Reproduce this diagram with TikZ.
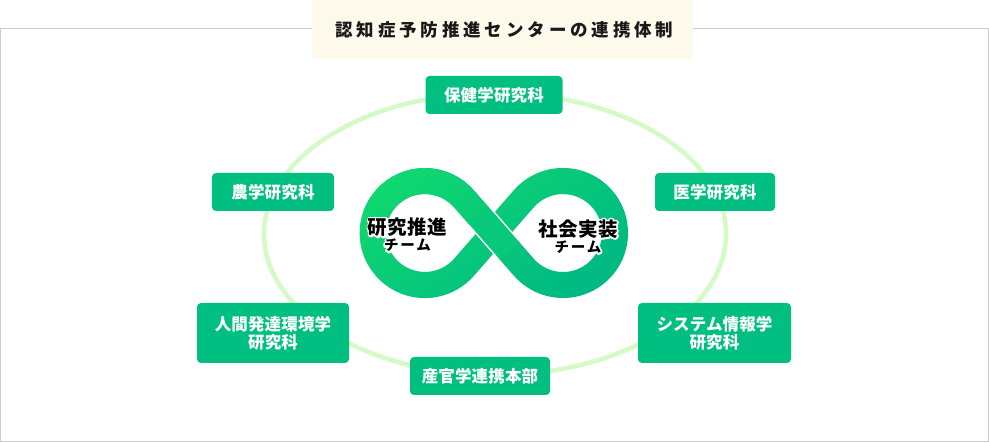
\documentclass[tikz,border=0pt]{standalone}
\usepackage{fontspec}
\setmainfont{Noto Sans CJK JP}
\usetikzlibrary{fadings}

\definecolor{unitgreen}{HTML}{00BF80}
\definecolor{ringgreen}{HTML}{D4FAC6}
\definecolor{titlebg}{HTML}{FEFAEB}
\definecolor{framegray}{HTML}{CCCCCC}
\definecolor{loopdark}{HTML}{00B984}
\definecolor{looplight}{HTML}{10D870}
\definecolor{loopmid}{HTML}{08C97A}
\tikzfading[name=loopfade, left color=transparent!0, right color=transparent!100]

% white outline round the team names
\newcommand{\halo}[1]{\setbox0\hbox{#1}%
  \rlap{\color{white}\special{pdf:literal direct 1 Tr 3.6 w 1 j}\copy0\special{pdf:literal direct 0 Tr 0.4 w 0 j}}%
  \copy0}
\newcommand{\unitfont}{\fontsize{16.5}{18}\selectfont\bfseries\addfontfeature{LetterSpace=1}}

\begin{document}
\begin{tikzpicture}[x=1pt,y=-1pt,
    unit/.style={rectangle,fill=unitgreen,rounded corners=4pt,text=white,font=\unitfont,
      align=center,inner sep=0pt,minimum height=38pt},
    wideunit/.style={unit,minimum height=60pt},
    team/.style={align=center,inner sep=0pt,font=\bfseries},
    band/.style={line width=26pt,line join=round}]
    \useasboundingbox (0,0) rectangle (989,443);
    \draw[framegray,line width=1.3pt] (0.7,28.5) rectangle (988.3,441.3);
    \node[fill=titlebg,minimum width=381pt,minimum height=59pt,inner sep=0pt,
      font=\fontsize{17.5}{20}\selectfont\bfseries\addfontfeature{LetterSpace=22},text=black!90]
      (title) at (502.5,29.5) {\hspace*{3.8pt}認知症予防推進センターの連携体制};

    % ring behind the units
    \draw[ringgreen,line width=4.5pt] (495,234) ellipse[x radius=231,y radius=141];

    % infinity
    \draw[band,loopdark] (464.2,198.9) arc[start angle=-41,end angle=-319,radius=52]
      -- (523.8,198.9) arc[start angle=-139,end angle=139,radius=52] -- cycle;
    \draw[band,looplight,path fading=loopfade,fading angle=-35] (464.2,198.9) arc[start angle=-41,end angle=-319,radius=52]
      -- (523.8,198.9) arc[start angle=-139,end angle=139,radius=52] -- cycle;
    \draw[white,line width=29pt] (479.1,215.95) -- (508.9,250.05);
    \draw[loopmid,line width=26pt] (478.1,214.8) -- (509.9,251.2);

    \node[team] (kenkyu) at (407.5,235)
      {\halo{\fontsize{19.5}{20}\selectfont\addfontfeature{LetterSpace=2}研究推進}\\[1.5pt]%
       \halo{\fontsize{14.5}{15}\selectfont\addfontfeature{LetterSpace=12}チーム}};
    \node[team] (shakai) at (578,236.5)
      {\halo{\fontsize{19.5}{20}\selectfont\addfontfeature{LetterSpace=2}社会実装}\\[1.5pt]%
       \halo{\fontsize{14.5}{15}\selectfont\addfontfeature{LetterSpace=12}チーム}};

    % units
    \node[unit,minimum width=137pt] (hoken) at (494,95) {保健学研究科};
    \node[unit,minimum width=122pt] (nogaku) at (273,192) {農学研究科};
    \node[unit,minimum width=120pt] (igaku) at (715,192) {医学研究科};
    \node[wideunit,minimum width=152pt] (ningen) at (273,333) {人間発達環境学\\研究科};
    \node[wideunit,minimum width=153pt] (system) at (714.5,333) {システム情報学\\研究科};
    \node[unit,minimum width=140pt] (sankan) at (480,376) {産官学連携本部};
\end{tikzpicture}
\end{document}
